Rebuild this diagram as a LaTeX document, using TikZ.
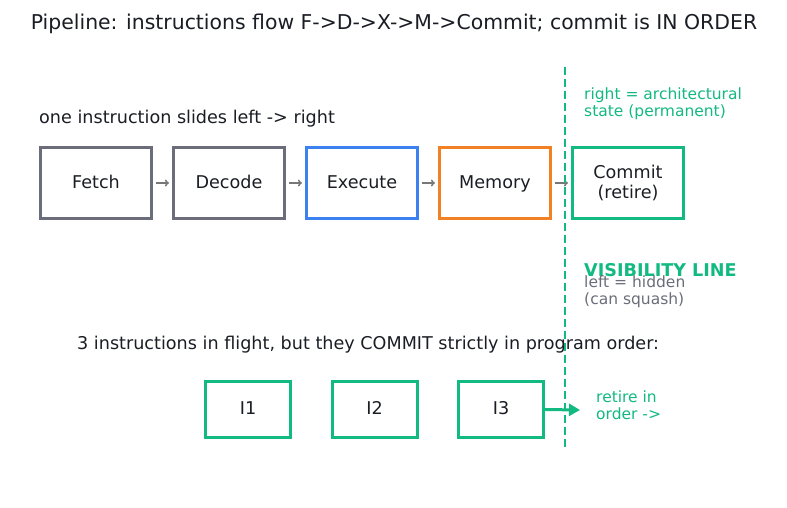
\documentclass[tikz,border=0pt]{standalone}
\usepackage{fontspec}
\setmainfont{DejaVu Sans}
\usetikzlibrary{arrows.meta,positioning}

\definecolor{ink}{HTML}{1A1D24}
\definecolor{slate}{HTML}{6B6E7A}
\definecolor{stageblue}{HTML}{3B82F0}
\definecolor{stageorange}{HTML}{F28025}
\definecolor{okgreen}{HTML}{12B981}
\definecolor{arrowgray}{HTML}{777777}

\begin{document}
\begin{tikzpicture}[
    x=1pt, y=-1pt,
    node distance=19pt,
    stage/.style={rectangle, draw=slate, line width=3pt, minimum width=111pt, minimum height=71pt, text=ink, text height=1.0em, text depth=0pt, font=\fontsize{17.6}{20.5}\selectfont},
    insn/.style={stage, draw=okgreen, minimum width=85pt, minimum height=56pt},
    label/.style={anchor=west, inner sep=0pt, align=left, text=ink, font=\fontsize{17.6}{20.5}\selectfont},
    note/.style={anchor=west, inner sep=0pt, align=left, text=okgreen, font=\fontsize{15.5}{17}\selectfont},
    flow/.style={-{To[length=4pt,width=7pt]}, draw=arrowgray, line width=1.5pt, shorten <=3pt, shorten >=3pt},
    visline/.style={draw=okgreen, line width=2.5pt, dash pattern=on 8pt off 4pt},
    retirearrow/.style={-{Triangle[length=11pt,width=12pt]}, draw=okgreen, line width=3pt}
]
    \useasboundingbox (0,0) rectangle (787,507);

    % Title
    \node[text=ink, font=\fontsize{20.4}{23}\selectfont] (title) at (394,23.5) {Pipeline: instructions flow F->D->X->M->Commit; commit is IN ORDER};

    % Pipeline row
    \node[label] (slide) at (39,119) {one instruction slides left -> right};
    \node[stage] (fetch) at (96,183) {Fetch};
    \node[stage, right=of fetch] (decode) {Decode};
    \node[stage, draw=stageblue, right=of decode] (execute) {Execute};
    \node[stage, draw=stageorange, right=of execute] (memory) {Memory};
    \node[stage, draw=okgreen, align=center, text height=, text depth=, right=of memory] (commit) {Commit\\(retire)};

    \draw[flow] (fetch) -- (decode);
    \draw[flow] (decode) -- (execute);
    \draw[flow] (execute) -- (memory);
    \draw[flow] (memory) -- (commit);

    % Visibility line
    \coordinate (vtop) at (565,67);
    \coordinate (vbot) at (565,447);
    \draw[visline] (vtop) -- (vbot);

    \node[note] (archnote) at (584,103.5) {right = architectural\\state (permanent)};
    \node[note, font=\bfseries\fontsize{17.6}{20.5}\selectfont] (vislabel) at (584,270) {VISIBILITY LINE};
    \node[note, text=slate] (hiddennote) at (584,291.5) {left = hidden\\(can squash)};

    % In-order commit
    \node[label] (inflight) at (77,345) {3 instructions in flight, but they COMMIT strictly in program order:};
    \node[insn] (i1) at (248,409.5) {I1};
    \node[insn, right=38.5pt of i1] (i2) {I2};
    \node[insn, right=38.5pt of i2] (i3) {I3};

    \coordinate (retire) at (580,410);
    \draw[retirearrow] (i3.east) -- (retire);
    \node[note] (retirenote) at (596,405.5) {retire in\\order ->};
\end{tikzpicture}
\end{document}
